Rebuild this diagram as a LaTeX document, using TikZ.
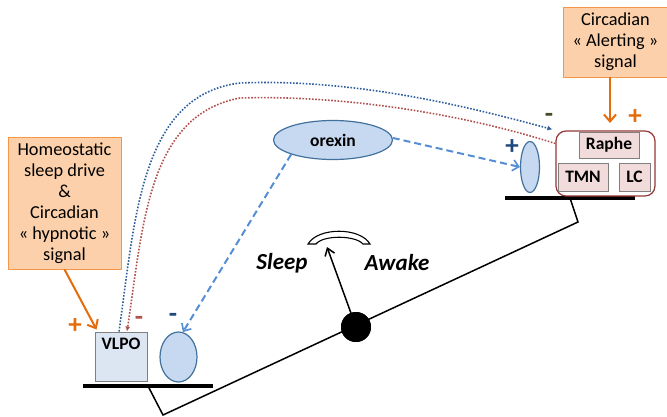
\documentclass[tikz,border=0pt]{standalone}
\usepackage{fontspec}
\setmainfont{Carlito}
\usetikzlibrary{arrows.meta,shapes.geometric}
\definecolor{orfill}{HTML}{FBD0AA}
\definecolor{ordraw}{HTML}{F79646}
\definecolor{orarrow}{HTML}{E46C0A}
\definecolor{bluefill}{HTML}{C6D9F1}
\definecolor{bluedraw}{HTML}{41719C}
\definecolor{vlpofill}{HTML}{DCE6F2}
\definecolor{pinkfill}{HTML}{F2DCDB}
\definecolor{reddraw}{HTML}{953735}
\definecolor{dashblue}{HTML}{558ED5}
\definecolor{dotblue}{HTML}{2F5E9E}
\definecolor{dotred}{HTML}{B2504E}
\definecolor{navy}{HTML}{1F497D}
\definecolor{olive}{HTML}{4A4A2A}
\tikzset{
  obox/.style={draw=ordraw, fill=orfill, line width=0.8pt, align=center, inner sep=0pt,
    font=\fontsize{18.3}{21}\selectfont},
  ell/.style={ellipse, draw=bluedraw, fill=bluefill, line width=1.2pt, inner sep=0pt},
  lbl/.style={font=\bfseries\fontsize{17.5}{20}\selectfont},
  pinkbox/.style={draw=gray, fill=pinkfill, line width=1pt, inner sep=0pt,
    font=\bfseries\fontsize{17.5}{20}\selectfont},
  barline/.style={line width=4pt},
  lever/.style={line width=1.5pt},
  sign/.style={font=\bfseries\fontsize{27}{27}\selectfont, inner sep=0pt},
  oarrow/.style={draw=orarrow, line width=2pt, -{Straight Barb[length=7pt,width=12pt,line width=2pt]}},
  dasharr/.style={draw=dashblue, line width=2pt, dash pattern=on 7pt off 4pt,
    -{Straight Barb[length=6pt,width=11pt,line width=1.6pt]}},
  dotb/.style={draw=dotblue, line width=1.6pt, dash pattern=on 1.6pt off 1.6pt},
  dotr/.style={draw=dotred, line width=1.6pt, dash pattern=on 1.6pt off 1.6pt},
  gaugeword/.style={font=\bfseries\itshape\fontsize{23}{26}\selectfont}
}
\begin{document}
\begin{tikzpicture}[x=1pt,y=-1pt]
\useasboundingbox (0,0) rectangle (667,416);

% lever
\coordinate (p1) at (148,386);
\coordinate (p2) at (163,415);
\coordinate (p3) at (578,222);
\coordinate (p4) at (570,198);
\draw[lever] (p1) -- (p2) -- (p3) -- (p4);
\coordinate (bl1) at (83,386);
\coordinate (bl2) at (213,386);
\coordinate (br1) at (505,198);
\coordinate (br2) at (635,198);
\draw[barline] (bl1) -- (bl2);
\draw[barline] (br1) -- (br2);

% needle and gauge
\coordinate (tip) at (327,247);
\node[circle, fill=black, minimum size=30pt, inner sep=0pt] (ball) at (356,327) {};
\draw[lever, -{Straight Barb[length=7pt,width=10pt,line width=1.5pt]}] (ball.center) -- (tip);
\node[circle, fill=black, minimum size=30pt, inner sep=0pt] at (ball.center) {};
\draw[line width=1.1pt, fill=white] (308,244) .. controls (318,227) and (360,227) .. (370,244)
  -- (363,244) .. controls (355,235) and (323,235) .. (316,244) -- cycle;
\node[gaugeword] (sleep) at (282,263) {Sleep};
\node[gaugeword] (awake) at (397,263) {Awake};

% left side
\node[obox, minimum width=113pt, minimum height=132pt] (home) at (64.5,203)
  {Homeostatic\\sleep drive\\\&\\Circadian\\« hypnotic »\\signal};
\node[draw=gray, fill=vlpofill, line width=1pt, minimum width=52pt, minimum height=49pt, inner sep=0pt,
  label={[lbl, anchor=north, yshift=-3pt]north:VLPO}] (vlpo) at (121,356.5) {};
\node[ell, minimum width=37pt, minimum height=50pt] (ellL) at (178.5,357) {};

% right side
\node[obox, minimum width=105pt, minimum height=70pt] (alert) at (615.5,42)
  {Circadian\\« Alerting »\\signal};
\node[draw=reddraw, line width=1.2pt, rounded corners=10pt, minimum width=99pt, minimum height=65pt,
  inner sep=0pt] (grp) at (605.5,163.5) {};
\node[pinkbox, minimum width=60pt, minimum height=26pt] (raphe) at (609,145) {Raphe};
\node[pinkbox, minimum width=50pt, minimum height=28pt] (tmn) at (583,177) {TMN};
\node[pinkbox, minimum width=31pt, minimum height=28pt] (lc) at (634.5,177) {LC};
\node[ell, minimum width=19pt, minimum height=51pt] (ellR) at (530,167) {};

% orexin
\node[ell, lbl, minimum width=119pt, minimum height=39pt] (orexin) at (333,140) {orexin};

% arrows
\draw[oarrow] (home.south) -- ([shift={(2,-2)}]vlpo.north west);
\coordinate (oatip) at (610,123);
\draw[oarrow] ([xshift=-5.5pt]alert.south) -- (oatip);
\draw[dasharr] (orexin.199) -- (ellL.80);
\draw[dasharr] (orexin.2) -- (ellR.west);

\draw[dotb, -{Latex[length=5pt,width=5pt]}] ([xshift=-2pt]vlpo.north)
  .. controls (135,220) and (140,95) .. (240,83)
  .. controls (360,78) and (480,110) .. ([shift={(-3,-1)}]grp.north west);
\draw[dotr, -{Latex[length=5pt,width=5pt]}] ([yshift=20pt]grp.west)
  .. controls (450,110) and (330,95) .. (240,98)
  .. controls (148,115) and (143,225) .. ([xshift=6pt]vlpo.north);

% signs
\node[sign, text=orarrow] (plusL) at (75,326) {+};
\node[sign, text=orarrow] (plusR) at (635,117) {+};
\node[sign, text=navy] (plusB) at (512,147) {+};
\node[sign, text=dotred] (minR) at (139,321) {-};
\node[sign, text=navy] (minB) at (173,318) {-};
\node[sign, text=olive] (minO) at (549,118) {-};
\end{tikzpicture}
\end{document}
